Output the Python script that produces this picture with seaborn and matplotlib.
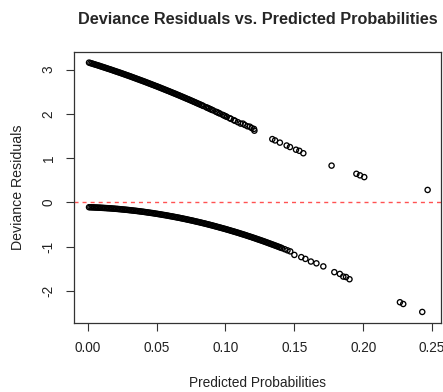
import numpy as np
import pandas as pd
import seaborn as sns
import matplotlib
matplotlib.use("Agg")
import matplotlib.pyplot as plt

# ---- data ----
# upper branch (observed = 1)
p_top = [0.001, 0.003, 0.005, 0.007, 0.009, 0.011, 0.013, 0.015, 0.017, 0.019,
         0.021, 0.023, 0.025, 0.027, 0.029, 0.031, 0.033, 0.035, 0.037, 0.039,
         0.041, 0.043, 0.045, 0.047, 0.049, 0.051, 0.053, 0.055, 0.057, 0.059,
         0.061, 0.063, 0.065, 0.067, 0.069, 0.071, 0.073, 0.075, 0.077, 0.079,
         0.081, 0.083, 0.087, 0.089, 0.091, 0.093, 0.095, 0.099, 0.101, 0.103,
         0.107, 0.109, 0.1127, 0.1177, 0.1207, 0.121, 0.134, 0.136, 0.1395,
         0.1444, 0.1468, 0.1512, 0.1536, 0.1565, 0.177, 0.195, 0.1976, 0.2007,
         0.2467]
r_top = [3.160, 3.141, 3.121, 3.102, 3.082, 3.061, 3.041, 3.020, 3.000, 2.978,
         2.957, 2.936, 2.914, 2.892, 2.870, 2.848, 2.825, 2.802, 2.779, 2.756,
         2.733, 2.709, 2.685, 2.661, 2.637, 2.613, 2.588, 2.563, 2.538, 2.513,
         2.487, 2.462, 2.436, 2.410, 2.383, 2.357, 2.330, 2.303, 2.276, 2.248,
         2.221, 2.193, 2.137, 2.108, 2.080, 2.051, 2.022, 1.963, 1.933, 1.903,
         1.843, 1.812, 1.78, 1.71, 1.66, 1.62, 1.43, 1.40, 1.35,
         1.285, 1.25, 1.19, 1.165, 1.11, 0.83, 0.645, 0.61, 0.57,
         0.28]
# more observations packed inside the solid part of the upper band
p_top_dense = [0.002, 0.004, 0.006, 0.008, 0.010, 0.012, 0.014, 0.016, 0.018, 0.020,
               0.022, 0.024, 0.026, 0.028, 0.030, 0.032, 0.034, 0.036, 0.038, 0.040,
               0.042, 0.044, 0.046, 0.048, 0.050, 0.052, 0.054, 0.056, 0.058, 0.060,
               0.062, 0.064, 0.066, 0.068, 0.070, 0.072, 0.074, 0.076, 0.078, 0.080,
               0.082, 0.084, 0.086, 0.088, 0.090, 0.094, 0.096, 0.098, 0.100, 0.104,
               0.106, 0.111, 0.114, 0.116, 0.119]
r_top_dense = [3.150, 3.131, 3.111, 3.092, 3.071, 3.051, 3.030, 3.010, 2.989, 2.967,
               2.946, 2.925, 2.903, 2.881, 2.859, 2.836, 2.813, 2.790, 2.767, 2.744,
               2.721, 2.697, 2.673, 2.649, 2.625, 2.600, 2.575, 2.550, 2.525, 2.500,
               2.474, 2.449, 2.423, 2.396, 2.370, 2.343, 2.317, 2.290, 2.262, 2.234,
               2.207, 2.179, 2.151, 2.123, 2.094, 2.037, 2.007, 1.978, 1.948, 1.888,
               1.858, 1.78, 1.75, 1.72, 1.68]

# lower branch (observed = 0)
p_bot = [0.001, 0.003, 0.005, 0.007, 0.009, 0.011, 0.013, 0.015, 0.017, 0.019,
         0.021, 0.023, 0.025, 0.027, 0.029, 0.031, 0.033, 0.035, 0.037, 0.039,
         0.041, 0.043, 0.045, 0.047, 0.049, 0.051, 0.053, 0.055, 0.057, 0.059,
         0.061, 0.063, 0.065, 0.067, 0.069, 0.071, 0.073, 0.075, 0.077, 0.079,
         0.081, 0.083, 0.085, 0.087, 0.089, 0.091, 0.093, 0.095, 0.097, 0.099,
         0.101, 0.103, 0.105, 0.107, 0.109, 0.111, 0.113, 0.115, 0.117, 0.119,
         0.121, 0.123, 0.125, 0.127, 0.129, 0.131, 0.133, 0.135, 0.137, 0.139,
         0.141, 0.143, 0.145, 0.147, 0.150, 0.155, 0.158, 0.162, 0.166, 0.171,
         0.179, 0.183, 0.1855, 0.1875, 0.190, 0.2266, 0.229, 0.2428]
r_bot = [-0.111, -0.113, -0.116, -0.119, -0.122, -0.126, -0.130, -0.134, -0.138, -0.143,
         -0.148, -0.154, -0.160, -0.166, -0.172, -0.179, -0.186, -0.193, -0.201, -0.209,
         -0.217, -0.226, -0.235, -0.244, -0.254, -0.264, -0.274, -0.285, -0.295, -0.307,
         -0.318, -0.330, -0.342, -0.354, -0.367, -0.380, -0.394, -0.407, -0.421, -0.436,
         -0.450, -0.465, -0.480, -0.496, -0.512, -0.528, -0.545, -0.562, -0.579, -0.596,
         -0.614, -0.632, -0.651, -0.669, -0.688, -0.708, -0.727, -0.747, -0.768, -0.788,
         -0.809, -0.831, -0.852, -0.874, -0.896, -0.919, -0.942, -0.965, -0.988, -1.012,
         -1.036, -1.061, -1.086, -1.11, -1.19, -1.24, -1.28, -1.34, -1.38, -1.45,
         -1.58, -1.62, -1.68, -1.69, -1.74, -2.26, -2.30, -2.48]
# more observations packed inside the solid part of the lower band
p_bot_dense = [0.002, 0.004, 0.006, 0.008, 0.010, 0.012, 0.014, 0.016, 0.018, 0.020,
               0.022, 0.024, 0.026, 0.028, 0.030, 0.032, 0.034, 0.036, 0.038, 0.040,
               0.042, 0.044, 0.046, 0.048, 0.050, 0.052, 0.054, 0.056, 0.058, 0.060,
               0.062, 0.064, 0.066, 0.068, 0.070, 0.072, 0.074, 0.076, 0.078, 0.080,
               0.082, 0.084, 0.086, 0.088, 0.090, 0.092, 0.094, 0.096, 0.098, 0.100,
               0.102, 0.104, 0.106, 0.108, 0.110, 0.112, 0.114, 0.116, 0.118, 0.120,
               0.122, 0.124, 0.126, 0.128, 0.130, 0.132, 0.134, 0.136, 0.138, 0.140]
r_bot_dense = [-0.112, -0.115, -0.118, -0.121, -0.124, -0.128, -0.132, -0.136, -0.141, -0.146,
               -0.151, -0.157, -0.163, -0.169, -0.176, -0.183, -0.190, -0.197, -0.205, -0.213,
               -0.222, -0.231, -0.240, -0.249, -0.259, -0.269, -0.280, -0.290, -0.301, -0.313,
               -0.324, -0.336, -0.348, -0.361, -0.374, -0.387, -0.401, -0.414, -0.429, -0.443,
               -0.458, -0.473, -0.488, -0.504, -0.520, -0.537, -0.554, -0.571, -0.588, -0.605,
               -0.623, -0.642, -0.660, -0.679, -0.698, -0.718, -0.737, -0.758, -0.778, -0.799,
               -0.820, -0.842, -0.863, -0.885, -0.908, -0.931, -0.954, -0.977, -1.000, -1.024]

x_ticks = [0.00, 0.05, 0.10, 0.15, 0.20, 0.25]
x_tick_labels = ["0.00", "0.05", "0.10", "0.15", "0.20", "0.25"]
y_ticks = [-2, -1, 0, 1, 2, 3]
y_tick_labels = ["-2", "-1", "0", "1", "2", "3"]

title = "Deviance Residuals vs. Predicted Probabilities"
x_label = "Predicted Probabilities"
y_label = "Deviance Residuals"

df = pd.DataFrame({
    "Predicted Probabilities": p_top + p_top_dense + p_bot + p_bot_dense,
    "Deviance Residuals": r_top + r_top_dense + r_bot + r_bot_dense,
})

sns.set_style("white")
plt.rcParams["font.family"] = ["Liberation Sans", "DejaVu Sans"]

W, H = 443, 392
fig = plt.figure(figsize=(W / 100, H / 100), dpi=100)
L, R, T, B = 74, 441, 52, 323
ax = fig.add_axes([L / W, 1 - B / H, (R - L) / W, (B - T) / H])

sns.scatterplot(data=df, x="Predicted Probabilities", y="Deviance Residuals",
                ax=ax, marker="o", s=14, facecolor="none", edgecolor="black",
                linewidth=0.95, legend=False)

ax.axhline(0, color="#ff5252", linewidth=1.0, dashes=(2.9, 2.9), zorder=0)

ax.set_xlim(-0.0099, 0.2564)
ax.set_ylim(-2.73, 3.40)
ax.set_xticks(x_ticks)
ax.set_xticklabels(x_tick_labels)
ax.set_yticks(y_ticks)
ax.set_yticklabels(y_tick_labels, rotation=90, va="center")

ax.tick_params(axis="both", direction="out", length=5.8, width=0.8,
               color="#333333", labelsize=9.8, labelcolor="#222222",
               bottom=True, left=True)
ax.tick_params(axis="x", pad=7.5)
ax.tick_params(axis="y", pad=7.5)
for s in ax.spines.values():
    s.set_color("#333333")
    s.set_linewidth(0.9)
    s.set_visible(True)

ax.set_xlabel(x_label, fontsize=9.9, color="#222222", va="center")
ax.xaxis.set_label_coords(0.5, (B - 383) / (B - T))
ax.set_ylabel(y_label, fontsize=10.2, color="#222222", ha="center", va="center")
ax.yaxis.set_label_coords((18 - L) / (R - L), 0.5)

ax.set_title(title, fontsize=11.7, fontweight="bold", y=(B - 19) / (B - T),
             va="center", pad=0)

fig.savefig("out.png", dpi=100)
